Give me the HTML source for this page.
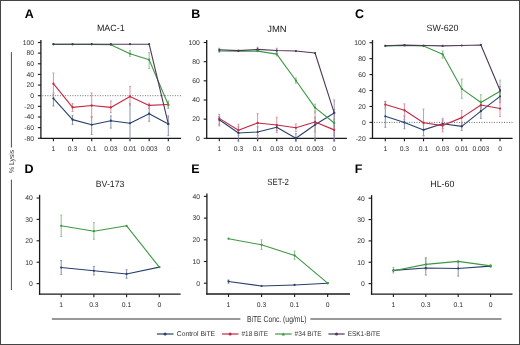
<!DOCTYPE html>
<html><head><meta charset="utf-8"><style>
html,body{margin:0;padding:0;background:#fff;}
body{width:520px;height:345px;overflow:hidden;}
svg{display:block;filter:blur(0.3px);} text{text-rendering:geometricPrecision;}
</style></head><body>
<svg width="520" height="345" viewBox="0 0 520 345" font-family="Liberation Sans, sans-serif">
<rect x="0" y="0" width="520" height="345" fill="#fff"/>
<line x1="40.9" y1="40.1" x2="40.9" y2="138.9" stroke="#1a1a1a" stroke-width="1.3" />
<line x1="40.2" y1="138.3" x2="181" y2="138.3" stroke="#1a1a1a" stroke-width="1.3" />
<line x1="37.9" y1="42.5" x2="40.9" y2="42.5" stroke="#1a1a1a" stroke-width="1.1" />
<text x="34.1" y="44.85" font-size="6.8" text-anchor="end" font-weight="normal" fill="#333333" >100</text>
<line x1="37.9" y1="53.14" x2="40.9" y2="53.14" stroke="#1a1a1a" stroke-width="1.1" />
<text x="34.1" y="55.49" font-size="6.8" text-anchor="end" font-weight="normal" fill="#333333" >80</text>
<line x1="37.9" y1="63.78" x2="40.9" y2="63.78" stroke="#1a1a1a" stroke-width="1.1" />
<text x="34.1" y="66.13" font-size="6.8" text-anchor="end" font-weight="normal" fill="#333333" >60</text>
<line x1="37.9" y1="74.42" x2="40.9" y2="74.42" stroke="#1a1a1a" stroke-width="1.1" />
<text x="34.1" y="76.77" font-size="6.8" text-anchor="end" font-weight="normal" fill="#333333" >40</text>
<line x1="37.9" y1="85.06" x2="40.9" y2="85.06" stroke="#1a1a1a" stroke-width="1.1" />
<text x="34.1" y="87.41" font-size="6.8" text-anchor="end" font-weight="normal" fill="#333333" >20</text>
<line x1="37.9" y1="95.7" x2="40.9" y2="95.7" stroke="#1a1a1a" stroke-width="1.1" />
<text x="34.1" y="98.05" font-size="6.8" text-anchor="end" font-weight="normal" fill="#333333" >0</text>
<line x1="37.9" y1="106.34" x2="40.9" y2="106.34" stroke="#1a1a1a" stroke-width="1.1" />
<text x="34.1" y="108.69" font-size="6.8" text-anchor="end" font-weight="normal" fill="#333333" >-20</text>
<line x1="37.9" y1="116.98" x2="40.9" y2="116.98" stroke="#1a1a1a" stroke-width="1.1" />
<text x="34.1" y="119.33" font-size="6.8" text-anchor="end" font-weight="normal" fill="#333333" >-40</text>
<line x1="37.9" y1="127.62" x2="40.9" y2="127.62" stroke="#1a1a1a" stroke-width="1.1" />
<text x="34.1" y="129.97" font-size="6.8" text-anchor="end" font-weight="normal" fill="#333333" >-60</text>
<line x1="37.9" y1="138.26" x2="40.9" y2="138.26" stroke="#1a1a1a" stroke-width="1.1" />
<text x="34.1" y="140.61" font-size="6.8" text-anchor="end" font-weight="normal" fill="#333333" >-80</text>
<line x1="53.4" y1="138.3" x2="53.4" y2="141.3" stroke="#1a1a1a" stroke-width="1.1" />
<text x="53.4" y="150.5" font-size="6.8" text-anchor="middle" font-weight="normal" fill="#333333" >1</text>
<line x1="72.55" y1="138.3" x2="72.55" y2="141.3" stroke="#1a1a1a" stroke-width="1.1" />
<text x="72.55" y="150.5" font-size="6.8" text-anchor="middle" font-weight="normal" fill="#333333" >0.3</text>
<line x1="91.7" y1="138.3" x2="91.7" y2="141.3" stroke="#1a1a1a" stroke-width="1.1" />
<text x="91.7" y="150.5" font-size="6.8" text-anchor="middle" font-weight="normal" fill="#333333" >0.1</text>
<line x1="110.85" y1="138.3" x2="110.85" y2="141.3" stroke="#1a1a1a" stroke-width="1.1" />
<text x="110.85" y="150.5" font-size="6.8" text-anchor="middle" font-weight="normal" fill="#333333" >0.03</text>
<line x1="130" y1="138.3" x2="130" y2="141.3" stroke="#1a1a1a" stroke-width="1.1" />
<text x="130" y="150.5" font-size="6.8" text-anchor="middle" font-weight="normal" fill="#333333" >0.01</text>
<line x1="149.15" y1="138.3" x2="149.15" y2="141.3" stroke="#1a1a1a" stroke-width="1.1" />
<text x="149.15" y="150.5" font-size="6.8" text-anchor="middle" font-weight="normal" fill="#333333" >0.003</text>
<line x1="168.3" y1="138.3" x2="168.3" y2="141.3" stroke="#1a1a1a" stroke-width="1.1" />
<text x="168.3" y="150.5" font-size="6.8" text-anchor="middle" font-weight="normal" fill="#333333" >0</text>
<line x1="42.4" y1="95.7" x2="181" y2="95.7" stroke="#6e6e6e" stroke-width="1" stroke-dasharray="1,1.5"/>
<line x1="53.4" y1="94.1" x2="53.4" y2="106.07" stroke="#7887a3" stroke-width="0.9" />
<line x1="52.4" y1="94.1" x2="54.4" y2="94.1" stroke="#7887a3" stroke-width="0.8" />
<line x1="52.4" y1="106.07" x2="54.4" y2="106.07" stroke="#7887a3" stroke-width="0.8" />
<line x1="72.55" y1="115.54" x2="72.55" y2="124.43" stroke="#7887a3" stroke-width="0.9" />
<line x1="71.55" y1="115.54" x2="73.55" y2="115.54" stroke="#7887a3" stroke-width="0.8" />
<line x1="71.55" y1="124.43" x2="73.55" y2="124.43" stroke="#7887a3" stroke-width="0.8" />
<line x1="91.7" y1="116.98" x2="91.7" y2="134.48" stroke="#7887a3" stroke-width="0.9" />
<line x1="90.7" y1="116.98" x2="92.7" y2="116.98" stroke="#7887a3" stroke-width="0.8" />
<line x1="90.7" y1="134.48" x2="92.7" y2="134.48" stroke="#7887a3" stroke-width="0.8" />
<line x1="110.85" y1="115.92" x2="110.85" y2="128.15" stroke="#7887a3" stroke-width="0.9" />
<line x1="109.85" y1="115.92" x2="111.85" y2="115.92" stroke="#7887a3" stroke-width="0.8" />
<line x1="109.85" y1="128.15" x2="111.85" y2="128.15" stroke="#7887a3" stroke-width="0.8" />
<line x1="130" y1="103.68" x2="130" y2="139.32" stroke="#7887a3" stroke-width="0.9" />
<line x1="129" y1="103.68" x2="131" y2="103.68" stroke="#7887a3" stroke-width="0.8" />
<line x1="129" y1="139.32" x2="131" y2="139.32" stroke="#7887a3" stroke-width="0.8" />
<line x1="149.15" y1="108.47" x2="149.15" y2="121.24" stroke="#7887a3" stroke-width="0.9" />
<line x1="148.15" y1="108.47" x2="150.15" y2="108.47" stroke="#7887a3" stroke-width="0.8" />
<line x1="148.15" y1="121.24" x2="150.15" y2="121.24" stroke="#7887a3" stroke-width="0.8" />
<line x1="168.3" y1="115.92" x2="168.3" y2="135.6" stroke="#7887a3" stroke-width="0.9" />
<line x1="167.3" y1="115.92" x2="169.3" y2="115.92" stroke="#7887a3" stroke-width="0.8" />
<line x1="167.3" y1="135.6" x2="169.3" y2="135.6" stroke="#7887a3" stroke-width="0.8" />
<line x1="53.4" y1="72.98" x2="53.4" y2="93.04" stroke="#dc8494" stroke-width="0.9" />
<line x1="52.4" y1="72.98" x2="54.4" y2="72.98" stroke="#dc8494" stroke-width="0.8" />
<line x1="52.4" y1="93.04" x2="54.4" y2="93.04" stroke="#dc8494" stroke-width="0.8" />
<line x1="72.55" y1="103.47" x2="72.55" y2="111.55" stroke="#dc8494" stroke-width="0.9" />
<line x1="71.55" y1="103.47" x2="73.55" y2="103.47" stroke="#dc8494" stroke-width="0.8" />
<line x1="71.55" y1="111.55" x2="73.55" y2="111.55" stroke="#dc8494" stroke-width="0.8" />
<line x1="91.7" y1="92.93" x2="91.7" y2="116.98" stroke="#dc8494" stroke-width="0.9" />
<line x1="90.7" y1="92.93" x2="92.7" y2="92.93" stroke="#dc8494" stroke-width="0.8" />
<line x1="90.7" y1="116.98" x2="92.7" y2="116.98" stroke="#dc8494" stroke-width="0.8" />
<line x1="110.85" y1="100.97" x2="110.85" y2="112.72" stroke="#dc8494" stroke-width="0.9" />
<line x1="109.85" y1="100.97" x2="111.85" y2="100.97" stroke="#dc8494" stroke-width="0.8" />
<line x1="109.85" y1="112.72" x2="111.85" y2="112.72" stroke="#dc8494" stroke-width="0.8" />
<line x1="130" y1="86.55" x2="130" y2="105.28" stroke="#dc8494" stroke-width="0.9" />
<line x1="129" y1="86.55" x2="131" y2="86.55" stroke="#dc8494" stroke-width="0.8" />
<line x1="129" y1="105.28" x2="131" y2="105.28" stroke="#dc8494" stroke-width="0.8" />
<line x1="149.15" y1="103.15" x2="149.15" y2="107.4" stroke="#dc8494" stroke-width="0.9" />
<line x1="148.15" y1="103.15" x2="150.15" y2="103.15" stroke="#dc8494" stroke-width="0.8" />
<line x1="148.15" y1="107.4" x2="150.15" y2="107.4" stroke="#dc8494" stroke-width="0.8" />
<line x1="168.3" y1="102.08" x2="168.3" y2="106.87" stroke="#dc8494" stroke-width="0.9" />
<line x1="167.3" y1="102.08" x2="169.3" y2="102.08" stroke="#dc8494" stroke-width="0.8" />
<line x1="167.3" y1="106.87" x2="169.3" y2="106.87" stroke="#dc8494" stroke-width="0.8" />
<line x1="130" y1="50.48" x2="130" y2="56.33" stroke="#86b886" stroke-width="0.9" />
<line x1="129" y1="50.48" x2="131" y2="50.48" stroke="#86b886" stroke-width="0.8" />
<line x1="129" y1="56.33" x2="131" y2="56.33" stroke="#86b886" stroke-width="0.8" />
<line x1="149.15" y1="52.61" x2="149.15" y2="68.57" stroke="#86b886" stroke-width="0.9" />
<line x1="148.15" y1="52.61" x2="150.15" y2="52.61" stroke="#86b886" stroke-width="0.8" />
<line x1="148.15" y1="68.57" x2="150.15" y2="68.57" stroke="#86b886" stroke-width="0.8" />
<line x1="168.3" y1="101.02" x2="168.3" y2="108.47" stroke="#86b886" stroke-width="0.9" />
<line x1="167.3" y1="101.02" x2="169.3" y2="101.02" stroke="#86b886" stroke-width="0.8" />
<line x1="167.3" y1="108.47" x2="169.3" y2="108.47" stroke="#86b886" stroke-width="0.8" />
<polyline points="53.4,98.36 72.55,119.64 91.7,124.75 110.85,120.7 130,123.26 149.15,113.68 168.3,124.06" fill="none" stroke="#2a406c" stroke-width="1.1" stroke-linejoin="round"/>
<circle cx="53.4" cy="98.36" r="1.1" fill="#2a406c"/>
<circle cx="72.55" cy="119.64" r="1.1" fill="#2a406c"/>
<circle cx="91.7" cy="124.75" r="1.1" fill="#2a406c"/>
<circle cx="110.85" cy="120.7" r="1.1" fill="#2a406c"/>
<circle cx="130" cy="123.26" r="1.1" fill="#2a406c"/>
<circle cx="149.15" cy="113.68" r="1.1" fill="#2a406c"/>
<circle cx="168.3" cy="124.06" r="1.1" fill="#2a406c"/>
<polyline points="53.4,83.68 72.55,107.4 91.7,105.44 110.85,107.4 130,96.44 149.15,105.38 168.3,104.48" fill="none" stroke="#c42842" stroke-width="1.1" stroke-linejoin="round"/>
<circle cx="53.4" cy="83.68" r="1.1" fill="#c42842"/>
<circle cx="72.55" cy="107.4" r="1.1" fill="#c42842"/>
<circle cx="91.7" cy="105.44" r="1.1" fill="#c42842"/>
<circle cx="110.85" cy="107.4" r="1.1" fill="#c42842"/>
<circle cx="130" cy="96.44" r="1.1" fill="#c42842"/>
<circle cx="149.15" cy="105.38" r="1.1" fill="#c42842"/>
<circle cx="168.3" cy="104.48" r="1.1" fill="#c42842"/>
<polyline points="53.4,44.36 72.55,44.36 91.7,44.36 110.85,44.63 130,53.67 149.15,59.68 168.3,104.74" fill="none" stroke="#3e9844" stroke-width="1.1" stroke-linejoin="round"/>
<circle cx="53.4" cy="44.36" r="1.1" fill="#3e9844"/>
<circle cx="72.55" cy="44.36" r="1.1" fill="#3e9844"/>
<circle cx="91.7" cy="44.36" r="1.1" fill="#3e9844"/>
<circle cx="110.85" cy="44.63" r="1.1" fill="#3e9844"/>
<circle cx="130" cy="53.67" r="1.1" fill="#3e9844"/>
<circle cx="149.15" cy="59.68" r="1.1" fill="#3e9844"/>
<circle cx="168.3" cy="104.74" r="1.1" fill="#3e9844"/>
<polyline points="53.4,44.2 72.55,44.2 91.7,44.2 110.85,44.2 130,44.2 149.15,44.2 168.3,123.9" fill="none" stroke="#4e3858" stroke-width="1.1" stroke-linejoin="round"/>
<circle cx="53.4" cy="44.2" r="1.1" fill="#4e3858"/>
<circle cx="72.55" cy="44.2" r="1.1" fill="#4e3858"/>
<circle cx="91.7" cy="44.2" r="1.1" fill="#4e3858"/>
<circle cx="110.85" cy="44.2" r="1.1" fill="#4e3858"/>
<circle cx="130" cy="44.2" r="1.1" fill="#4e3858"/>
<circle cx="149.15" cy="44.2" r="1.1" fill="#4e3858"/>
<circle cx="168.3" cy="123.9" r="1.1" fill="#4e3858"/>
<line x1="206.7" y1="40.1" x2="206.7" y2="138.9" stroke="#1a1a1a" stroke-width="1.3" />
<line x1="206" y1="138.3" x2="346.9" y2="138.3" stroke="#1a1a1a" stroke-width="1.3" />
<line x1="203.7" y1="42.5" x2="206.7" y2="42.5" stroke="#1a1a1a" stroke-width="1.1" />
<text x="199.9" y="44.85" font-size="6.8" text-anchor="end" font-weight="normal" fill="#333333" >100</text>
<line x1="203.7" y1="61.66" x2="206.7" y2="61.66" stroke="#1a1a1a" stroke-width="1.1" />
<text x="199.9" y="64.01" font-size="6.8" text-anchor="end" font-weight="normal" fill="#333333" >80</text>
<line x1="203.7" y1="80.82" x2="206.7" y2="80.82" stroke="#1a1a1a" stroke-width="1.1" />
<text x="199.9" y="83.17" font-size="6.8" text-anchor="end" font-weight="normal" fill="#333333" >60</text>
<line x1="203.7" y1="99.98" x2="206.7" y2="99.98" stroke="#1a1a1a" stroke-width="1.1" />
<text x="199.9" y="102.33" font-size="6.8" text-anchor="end" font-weight="normal" fill="#333333" >40</text>
<line x1="203.7" y1="119.14" x2="206.7" y2="119.14" stroke="#1a1a1a" stroke-width="1.1" />
<text x="199.9" y="121.49" font-size="6.8" text-anchor="end" font-weight="normal" fill="#333333" >20</text>
<line x1="203.7" y1="138.3" x2="206.7" y2="138.3" stroke="#1a1a1a" stroke-width="1.1" />
<text x="199.9" y="140.65" font-size="6.8" text-anchor="end" font-weight="normal" fill="#333333" >0</text>
<line x1="219.3" y1="138.3" x2="219.3" y2="141.3" stroke="#1a1a1a" stroke-width="1.1" />
<text x="219.3" y="150.5" font-size="6.8" text-anchor="middle" font-weight="normal" fill="#333333" >1</text>
<line x1="238.45" y1="138.3" x2="238.45" y2="141.3" stroke="#1a1a1a" stroke-width="1.1" />
<text x="238.45" y="150.5" font-size="6.8" text-anchor="middle" font-weight="normal" fill="#333333" >0.3</text>
<line x1="257.6" y1="138.3" x2="257.6" y2="141.3" stroke="#1a1a1a" stroke-width="1.1" />
<text x="257.6" y="150.5" font-size="6.8" text-anchor="middle" font-weight="normal" fill="#333333" >0.1</text>
<line x1="276.75" y1="138.3" x2="276.75" y2="141.3" stroke="#1a1a1a" stroke-width="1.1" />
<text x="276.75" y="150.5" font-size="6.8" text-anchor="middle" font-weight="normal" fill="#333333" >0.03</text>
<line x1="295.9" y1="138.3" x2="295.9" y2="141.3" stroke="#1a1a1a" stroke-width="1.1" />
<text x="295.9" y="150.5" font-size="6.8" text-anchor="middle" font-weight="normal" fill="#333333" >0.01</text>
<line x1="315.05" y1="138.3" x2="315.05" y2="141.3" stroke="#1a1a1a" stroke-width="1.1" />
<text x="315.05" y="150.5" font-size="6.8" text-anchor="middle" font-weight="normal" fill="#333333" >0.003</text>
<line x1="334.2" y1="138.3" x2="334.2" y2="141.3" stroke="#1a1a1a" stroke-width="1.1" />
<text x="334.2" y="150.5" font-size="6.8" text-anchor="middle" font-weight="normal" fill="#333333" >0</text>
<line x1="219.3" y1="116.27" x2="219.3" y2="124.89" stroke="#7887a3" stroke-width="0.9" />
<line x1="218.3" y1="116.27" x2="220.3" y2="116.27" stroke="#7887a3" stroke-width="0.8" />
<line x1="218.3" y1="124.89" x2="220.3" y2="124.89" stroke="#7887a3" stroke-width="0.8" />
<line x1="238.45" y1="126.8" x2="238.45" y2="141.17" stroke="#7887a3" stroke-width="0.9" />
<line x1="237.45" y1="126.8" x2="239.45" y2="126.8" stroke="#7887a3" stroke-width="0.8" />
<line x1="237.45" y1="141.17" x2="239.45" y2="141.17" stroke="#7887a3" stroke-width="0.8" />
<line x1="257.6" y1="126.8" x2="257.6" y2="139.26" stroke="#7887a3" stroke-width="0.9" />
<line x1="256.6" y1="126.8" x2="258.6" y2="126.8" stroke="#7887a3" stroke-width="0.8" />
<line x1="256.6" y1="139.26" x2="258.6" y2="139.26" stroke="#7887a3" stroke-width="0.8" />
<line x1="276.75" y1="124.89" x2="276.75" y2="130.64" stroke="#7887a3" stroke-width="0.9" />
<line x1="275.75" y1="124.89" x2="277.75" y2="124.89" stroke="#7887a3" stroke-width="0.8" />
<line x1="275.75" y1="130.64" x2="277.75" y2="130.64" stroke="#7887a3" stroke-width="0.8" />
<line x1="295.9" y1="133.51" x2="295.9" y2="141.17" stroke="#7887a3" stroke-width="0.9" />
<line x1="294.9" y1="133.51" x2="296.9" y2="133.51" stroke="#7887a3" stroke-width="0.8" />
<line x1="294.9" y1="141.17" x2="296.9" y2="141.17" stroke="#7887a3" stroke-width="0.8" />
<line x1="315.05" y1="117.22" x2="315.05" y2="138.3" stroke="#7887a3" stroke-width="0.9" />
<line x1="314.05" y1="117.22" x2="316.05" y2="117.22" stroke="#7887a3" stroke-width="0.8" />
<line x1="314.05" y1="138.3" x2="316.05" y2="138.3" stroke="#7887a3" stroke-width="0.8" />
<line x1="334.2" y1="109.56" x2="334.2" y2="141.17" stroke="#7887a3" stroke-width="0.9" />
<line x1="333.2" y1="109.56" x2="335.2" y2="109.56" stroke="#7887a3" stroke-width="0.8" />
<line x1="333.2" y1="141.17" x2="335.2" y2="141.17" stroke="#7887a3" stroke-width="0.8" />
<line x1="219.3" y1="114.35" x2="219.3" y2="125.85" stroke="#dc8494" stroke-width="0.9" />
<line x1="218.3" y1="114.35" x2="220.3" y2="114.35" stroke="#dc8494" stroke-width="0.8" />
<line x1="218.3" y1="125.85" x2="220.3" y2="125.85" stroke="#dc8494" stroke-width="0.8" />
<line x1="238.45" y1="124.22" x2="238.45" y2="135.43" stroke="#dc8494" stroke-width="0.9" />
<line x1="237.45" y1="124.22" x2="239.45" y2="124.22" stroke="#dc8494" stroke-width="0.8" />
<line x1="237.45" y1="135.43" x2="239.45" y2="135.43" stroke="#dc8494" stroke-width="0.8" />
<line x1="257.6" y1="113.68" x2="257.6" y2="135.52" stroke="#dc8494" stroke-width="0.9" />
<line x1="256.6" y1="113.68" x2="258.6" y2="113.68" stroke="#dc8494" stroke-width="0.8" />
<line x1="256.6" y1="135.52" x2="258.6" y2="135.52" stroke="#dc8494" stroke-width="0.8" />
<line x1="276.75" y1="117.22" x2="276.75" y2="132.55" stroke="#dc8494" stroke-width="0.9" />
<line x1="275.75" y1="117.22" x2="277.75" y2="117.22" stroke="#dc8494" stroke-width="0.8" />
<line x1="275.75" y1="132.55" x2="277.75" y2="132.55" stroke="#dc8494" stroke-width="0.8" />
<line x1="295.9" y1="123.93" x2="295.9" y2="131.59" stroke="#dc8494" stroke-width="0.9" />
<line x1="294.9" y1="123.93" x2="296.9" y2="123.93" stroke="#dc8494" stroke-width="0.8" />
<line x1="294.9" y1="131.59" x2="296.9" y2="131.59" stroke="#dc8494" stroke-width="0.8" />
<line x1="315.05" y1="111.09" x2="315.05" y2="131.98" stroke="#dc8494" stroke-width="0.9" />
<line x1="314.05" y1="111.09" x2="316.05" y2="111.09" stroke="#dc8494" stroke-width="0.8" />
<line x1="314.05" y1="131.98" x2="316.05" y2="131.98" stroke="#dc8494" stroke-width="0.8" />
<line x1="334.2" y1="123.93" x2="334.2" y2="135.43" stroke="#dc8494" stroke-width="0.9" />
<line x1="333.2" y1="123.93" x2="335.2" y2="123.93" stroke="#dc8494" stroke-width="0.8" />
<line x1="333.2" y1="135.43" x2="335.2" y2="135.43" stroke="#dc8494" stroke-width="0.8" />
<line x1="276.75" y1="52.08" x2="276.75" y2="55.91" stroke="#86b886" stroke-width="0.9" />
<line x1="275.75" y1="52.08" x2="277.75" y2="52.08" stroke="#86b886" stroke-width="0.8" />
<line x1="275.75" y1="55.91" x2="277.75" y2="55.91" stroke="#86b886" stroke-width="0.8" />
<line x1="295.9" y1="77.95" x2="295.9" y2="83.22" stroke="#86b886" stroke-width="0.9" />
<line x1="294.9" y1="77.95" x2="296.9" y2="77.95" stroke="#86b886" stroke-width="0.8" />
<line x1="294.9" y1="83.22" x2="296.9" y2="83.22" stroke="#86b886" stroke-width="0.8" />
<line x1="315.05" y1="104.2" x2="315.05" y2="112.91" stroke="#86b886" stroke-width="0.9" />
<line x1="314.05" y1="104.2" x2="316.05" y2="104.2" stroke="#86b886" stroke-width="0.8" />
<line x1="314.05" y1="112.91" x2="316.05" y2="112.91" stroke="#86b886" stroke-width="0.8" />
<line x1="334.2" y1="119.14" x2="334.2" y2="126.8" stroke="#86b886" stroke-width="0.9" />
<line x1="333.2" y1="119.14" x2="335.2" y2="119.14" stroke="#86b886" stroke-width="0.8" />
<line x1="333.2" y1="126.8" x2="335.2" y2="126.8" stroke="#86b886" stroke-width="0.8" />
<line x1="219.3" y1="48.25" x2="219.3" y2="52.08" stroke="#9a88a2" stroke-width="0.9" />
<line x1="218.3" y1="48.25" x2="220.3" y2="48.25" stroke="#9a88a2" stroke-width="0.8" />
<line x1="218.3" y1="52.08" x2="220.3" y2="52.08" stroke="#9a88a2" stroke-width="0.8" />
<line x1="257.6" y1="47.29" x2="257.6" y2="51.12" stroke="#9a88a2" stroke-width="0.9" />
<line x1="256.6" y1="47.29" x2="258.6" y2="47.29" stroke="#9a88a2" stroke-width="0.8" />
<line x1="256.6" y1="51.12" x2="258.6" y2="51.12" stroke="#9a88a2" stroke-width="0.8" />
<line x1="276.75" y1="48.25" x2="276.75" y2="52.08" stroke="#9a88a2" stroke-width="0.9" />
<line x1="275.75" y1="48.25" x2="277.75" y2="48.25" stroke="#9a88a2" stroke-width="0.8" />
<line x1="275.75" y1="52.08" x2="277.75" y2="52.08" stroke="#9a88a2" stroke-width="0.8" />
<line x1="334.2" y1="99.98" x2="334.2" y2="140.22" stroke="#9a88a2" stroke-width="0.9" />
<line x1="333.2" y1="99.98" x2="335.2" y2="99.98" stroke="#9a88a2" stroke-width="0.8" />
<line x1="333.2" y1="140.22" x2="335.2" y2="140.22" stroke="#9a88a2" stroke-width="0.8" />
<polyline points="219.3,119.81 238.45,132.94 257.6,131.98 276.75,127.28 295.9,138.3 315.05,124.7 334.2,112.91" fill="none" stroke="#2a406c" stroke-width="1.1" stroke-linejoin="round"/>
<circle cx="219.3" cy="119.81" r="1.1" fill="#2a406c"/>
<circle cx="238.45" cy="132.94" r="1.1" fill="#2a406c"/>
<circle cx="257.6" cy="131.98" r="1.1" fill="#2a406c"/>
<circle cx="276.75" cy="127.28" r="1.1" fill="#2a406c"/>
<circle cx="295.9" cy="138.3" r="1.1" fill="#2a406c"/>
<circle cx="315.05" cy="124.7" r="1.1" fill="#2a406c"/>
<circle cx="334.2" cy="112.91" r="1.1" fill="#2a406c"/>
<polyline points="219.3,118.37 238.45,130.25 257.6,122.97 276.75,124.98 295.9,127.76 315.05,121.92 334.2,129.87" fill="none" stroke="#c42842" stroke-width="1.1" stroke-linejoin="round"/>
<circle cx="219.3" cy="118.37" r="1.1" fill="#c42842"/>
<circle cx="238.45" cy="130.25" r="1.1" fill="#c42842"/>
<circle cx="257.6" cy="122.97" r="1.1" fill="#c42842"/>
<circle cx="276.75" cy="124.98" r="1.1" fill="#c42842"/>
<circle cx="295.9" cy="127.76" r="1.1" fill="#c42842"/>
<circle cx="315.05" cy="121.92" r="1.1" fill="#c42842"/>
<circle cx="334.2" cy="129.87" r="1.1" fill="#c42842"/>
<polyline points="219.3,51.03 238.45,51.12 257.6,51.12 276.75,54.09 295.9,80.53 315.05,107.64 334.2,122.97" fill="none" stroke="#3e9844" stroke-width="1.1" stroke-linejoin="round"/>
<circle cx="219.3" cy="51.03" r="1.1" fill="#3e9844"/>
<circle cx="238.45" cy="51.12" r="1.1" fill="#3e9844"/>
<circle cx="257.6" cy="51.12" r="1.1" fill="#3e9844"/>
<circle cx="276.75" cy="54.09" r="1.1" fill="#3e9844"/>
<circle cx="295.9" cy="80.53" r="1.1" fill="#3e9844"/>
<circle cx="315.05" cy="107.64" r="1.1" fill="#3e9844"/>
<circle cx="334.2" cy="122.97" r="1.1" fill="#3e9844"/>
<polyline points="219.3,49.78 238.45,50.64 257.6,49.4 276.75,50.55 295.9,51.03 315.05,53.04 334.2,112.91" fill="none" stroke="#4e3858" stroke-width="1.1" stroke-linejoin="round"/>
<circle cx="219.3" cy="49.78" r="1.1" fill="#4e3858"/>
<circle cx="238.45" cy="50.64" r="1.1" fill="#4e3858"/>
<circle cx="257.6" cy="49.4" r="1.1" fill="#4e3858"/>
<circle cx="276.75" cy="50.55" r="1.1" fill="#4e3858"/>
<circle cx="295.9" cy="51.03" r="1.1" fill="#4e3858"/>
<circle cx="315.05" cy="53.04" r="1.1" fill="#4e3858"/>
<circle cx="334.2" cy="112.91" r="1.1" fill="#4e3858"/>
<line x1="372.5" y1="40.1" x2="372.5" y2="138.9" stroke="#1a1a1a" stroke-width="1.3" />
<line x1="371.8" y1="138.3" x2="512.6" y2="138.3" stroke="#1a1a1a" stroke-width="1.3" />
<line x1="369.5" y1="42.7" x2="372.5" y2="42.7" stroke="#1a1a1a" stroke-width="1.1" />
<text x="365.7" y="45.05" font-size="6.8" text-anchor="end" font-weight="normal" fill="#333333" >100</text>
<line x1="369.5" y1="58.64" x2="372.5" y2="58.64" stroke="#1a1a1a" stroke-width="1.1" />
<text x="365.7" y="60.99" font-size="6.8" text-anchor="end" font-weight="normal" fill="#333333" >80</text>
<line x1="369.5" y1="74.58" x2="372.5" y2="74.58" stroke="#1a1a1a" stroke-width="1.1" />
<text x="365.7" y="76.93" font-size="6.8" text-anchor="end" font-weight="normal" fill="#333333" >60</text>
<line x1="369.5" y1="90.52" x2="372.5" y2="90.52" stroke="#1a1a1a" stroke-width="1.1" />
<text x="365.7" y="92.87" font-size="6.8" text-anchor="end" font-weight="normal" fill="#333333" >40</text>
<line x1="369.5" y1="106.46" x2="372.5" y2="106.46" stroke="#1a1a1a" stroke-width="1.1" />
<text x="365.7" y="108.81" font-size="6.8" text-anchor="end" font-weight="normal" fill="#333333" >20</text>
<line x1="369.5" y1="122.4" x2="372.5" y2="122.4" stroke="#1a1a1a" stroke-width="1.1" />
<text x="365.7" y="124.75" font-size="6.8" text-anchor="end" font-weight="normal" fill="#333333" >0</text>
<line x1="369.5" y1="138.34" x2="372.5" y2="138.34" stroke="#1a1a1a" stroke-width="1.1" />
<text x="365.7" y="140.69" font-size="6.8" text-anchor="end" font-weight="normal" fill="#333333" >-20</text>
<line x1="385.3" y1="138.3" x2="385.3" y2="141.3" stroke="#1a1a1a" stroke-width="1.1" />
<text x="385.3" y="150.5" font-size="6.8" text-anchor="middle" font-weight="normal" fill="#333333" >1</text>
<line x1="404.42" y1="138.3" x2="404.42" y2="141.3" stroke="#1a1a1a" stroke-width="1.1" />
<text x="404.42" y="150.5" font-size="6.8" text-anchor="middle" font-weight="normal" fill="#333333" >0.3</text>
<line x1="423.54" y1="138.3" x2="423.54" y2="141.3" stroke="#1a1a1a" stroke-width="1.1" />
<text x="423.54" y="150.5" font-size="6.8" text-anchor="middle" font-weight="normal" fill="#333333" >0.1</text>
<line x1="442.66" y1="138.3" x2="442.66" y2="141.3" stroke="#1a1a1a" stroke-width="1.1" />
<text x="442.66" y="150.5" font-size="6.8" text-anchor="middle" font-weight="normal" fill="#333333" >0.03</text>
<line x1="461.78" y1="138.3" x2="461.78" y2="141.3" stroke="#1a1a1a" stroke-width="1.1" />
<text x="461.78" y="150.5" font-size="6.8" text-anchor="middle" font-weight="normal" fill="#333333" >0.01</text>
<line x1="480.9" y1="138.3" x2="480.9" y2="141.3" stroke="#1a1a1a" stroke-width="1.1" />
<text x="480.9" y="150.5" font-size="6.8" text-anchor="middle" font-weight="normal" fill="#333333" >0.003</text>
<line x1="500.02" y1="138.3" x2="500.02" y2="141.3" stroke="#1a1a1a" stroke-width="1.1" />
<text x="500.02" y="150.5" font-size="6.8" text-anchor="middle" font-weight="normal" fill="#333333" >0</text>
<line x1="374" y1="122.4" x2="512.6" y2="122.4" stroke="#6e6e6e" stroke-width="1" stroke-dasharray="1,1.5"/>
<line x1="385.3" y1="101.68" x2="385.3" y2="127.34" stroke="#7887a3" stroke-width="0.9" />
<line x1="384.3" y1="101.68" x2="386.3" y2="101.68" stroke="#7887a3" stroke-width="0.8" />
<line x1="384.3" y1="127.34" x2="386.3" y2="127.34" stroke="#7887a3" stroke-width="0.8" />
<line x1="404.42" y1="116.02" x2="404.42" y2="128.78" stroke="#7887a3" stroke-width="0.9" />
<line x1="403.42" y1="116.02" x2="405.42" y2="116.02" stroke="#7887a3" stroke-width="0.8" />
<line x1="403.42" y1="128.78" x2="405.42" y2="128.78" stroke="#7887a3" stroke-width="0.8" />
<line x1="423.54" y1="123.99" x2="423.54" y2="135.95" stroke="#7887a3" stroke-width="0.9" />
<line x1="422.54" y1="123.99" x2="424.54" y2="123.99" stroke="#7887a3" stroke-width="0.8" />
<line x1="422.54" y1="135.95" x2="424.54" y2="135.95" stroke="#7887a3" stroke-width="0.8" />
<line x1="442.66" y1="120.01" x2="442.66" y2="128.78" stroke="#7887a3" stroke-width="0.9" />
<line x1="441.66" y1="120.01" x2="443.66" y2="120.01" stroke="#7887a3" stroke-width="0.8" />
<line x1="441.66" y1="128.78" x2="443.66" y2="128.78" stroke="#7887a3" stroke-width="0.8" />
<line x1="461.78" y1="122.4" x2="461.78" y2="130.37" stroke="#7887a3" stroke-width="0.9" />
<line x1="460.78" y1="122.4" x2="462.78" y2="122.4" stroke="#7887a3" stroke-width="0.8" />
<line x1="460.78" y1="130.37" x2="462.78" y2="130.37" stroke="#7887a3" stroke-width="0.8" />
<line x1="480.9" y1="106.46" x2="480.9" y2="118.42" stroke="#7887a3" stroke-width="0.9" />
<line x1="479.9" y1="106.46" x2="481.9" y2="106.46" stroke="#7887a3" stroke-width="0.8" />
<line x1="479.9" y1="118.42" x2="481.9" y2="118.42" stroke="#7887a3" stroke-width="0.8" />
<line x1="500.02" y1="92.11" x2="500.02" y2="102.48" stroke="#7887a3" stroke-width="0.9" />
<line x1="499.02" y1="92.11" x2="501.02" y2="92.11" stroke="#7887a3" stroke-width="0.8" />
<line x1="499.02" y1="102.48" x2="501.02" y2="102.48" stroke="#7887a3" stroke-width="0.8" />
<line x1="385.3" y1="101.28" x2="385.3" y2="108.05" stroke="#dc8494" stroke-width="0.9" />
<line x1="384.3" y1="101.28" x2="386.3" y2="101.28" stroke="#dc8494" stroke-width="0.8" />
<line x1="384.3" y1="108.05" x2="386.3" y2="108.05" stroke="#dc8494" stroke-width="0.8" />
<line x1="404.42" y1="103.83" x2="404.42" y2="119.85" stroke="#dc8494" stroke-width="0.9" />
<line x1="403.42" y1="103.83" x2="405.42" y2="103.83" stroke="#dc8494" stroke-width="0.8" />
<line x1="403.42" y1="119.85" x2="405.42" y2="119.85" stroke="#dc8494" stroke-width="0.8" />
<line x1="423.54" y1="109.09" x2="423.54" y2="135.55" stroke="#dc8494" stroke-width="0.9" />
<line x1="422.54" y1="109.09" x2="424.54" y2="109.09" stroke="#dc8494" stroke-width="0.8" />
<line x1="422.54" y1="135.55" x2="424.54" y2="135.55" stroke="#dc8494" stroke-width="0.8" />
<line x1="442.66" y1="118.42" x2="442.66" y2="131.96" stroke="#dc8494" stroke-width="0.9" />
<line x1="441.66" y1="118.42" x2="443.66" y2="118.42" stroke="#dc8494" stroke-width="0.8" />
<line x1="441.66" y1="131.96" x2="443.66" y2="131.96" stroke="#dc8494" stroke-width="0.8" />
<line x1="461.78" y1="110.45" x2="461.78" y2="124.79" stroke="#dc8494" stroke-width="0.9" />
<line x1="460.78" y1="110.45" x2="462.78" y2="110.45" stroke="#dc8494" stroke-width="0.8" />
<line x1="460.78" y1="124.79" x2="462.78" y2="124.79" stroke="#dc8494" stroke-width="0.8" />
<line x1="480.9" y1="100.88" x2="480.9" y2="110.45" stroke="#dc8494" stroke-width="0.9" />
<line x1="479.9" y1="100.88" x2="481.9" y2="100.88" stroke="#dc8494" stroke-width="0.8" />
<line x1="479.9" y1="110.45" x2="481.9" y2="110.45" stroke="#dc8494" stroke-width="0.8" />
<line x1="500.02" y1="99.29" x2="500.02" y2="116.66" stroke="#dc8494" stroke-width="0.9" />
<line x1="499.02" y1="99.29" x2="501.02" y2="99.29" stroke="#dc8494" stroke-width="0.8" />
<line x1="499.02" y1="116.66" x2="501.02" y2="116.66" stroke="#dc8494" stroke-width="0.8" />
<line x1="442.66" y1="51.07" x2="442.66" y2="58.16" stroke="#86b886" stroke-width="0.9" />
<line x1="441.66" y1="51.07" x2="443.66" y2="51.07" stroke="#86b886" stroke-width="0.8" />
<line x1="441.66" y1="58.16" x2="443.66" y2="58.16" stroke="#86b886" stroke-width="0.8" />
<line x1="461.78" y1="79.04" x2="461.78" y2="98.33" stroke="#86b886" stroke-width="0.9" />
<line x1="460.78" y1="79.04" x2="462.78" y2="79.04" stroke="#86b886" stroke-width="0.8" />
<line x1="460.78" y1="98.33" x2="462.78" y2="98.33" stroke="#86b886" stroke-width="0.8" />
<line x1="480.9" y1="94.74" x2="480.9" y2="108.05" stroke="#86b886" stroke-width="0.9" />
<line x1="479.9" y1="94.74" x2="481.9" y2="94.74" stroke="#86b886" stroke-width="0.8" />
<line x1="479.9" y1="108.05" x2="481.9" y2="108.05" stroke="#86b886" stroke-width="0.8" />
<line x1="500.02" y1="80.16" x2="500.02" y2="98.49" stroke="#86b886" stroke-width="0.9" />
<line x1="499.02" y1="80.16" x2="501.02" y2="80.16" stroke="#86b886" stroke-width="0.8" />
<line x1="499.02" y1="98.49" x2="501.02" y2="98.49" stroke="#86b886" stroke-width="0.8" />
<line x1="500.02" y1="86.53" x2="500.02" y2="93.71" stroke="#9a88a2" stroke-width="0.9" />
<line x1="499.02" y1="86.53" x2="501.02" y2="86.53" stroke="#9a88a2" stroke-width="0.8" />
<line x1="499.02" y1="93.71" x2="501.02" y2="93.71" stroke="#9a88a2" stroke-width="0.8" />
<polyline points="385.3,116.34 404.42,122.4 423.54,129.89 442.66,123.75 461.78,126.39 480.9,111.16 500.02,96.34" fill="none" stroke="#2a406c" stroke-width="1.1" stroke-linejoin="round"/>
<circle cx="385.3" cy="116.34" r="1.1" fill="#2a406c"/>
<circle cx="404.42" cy="122.4" r="1.1" fill="#2a406c"/>
<circle cx="423.54" cy="129.89" r="1.1" fill="#2a406c"/>
<circle cx="442.66" cy="123.75" r="1.1" fill="#2a406c"/>
<circle cx="461.78" cy="126.39" r="1.1" fill="#2a406c"/>
<circle cx="480.9" cy="111.16" r="1.1" fill="#2a406c"/>
<circle cx="500.02" cy="96.34" r="1.1" fill="#2a406c"/>
<polyline points="385.3,104.55 404.42,110.29 423.54,122.8 442.66,125.59 461.78,117.62 480.9,105.03 500.02,108.53" fill="none" stroke="#c42842" stroke-width="1.1" stroke-linejoin="round"/>
<circle cx="385.3" cy="104.55" r="1.1" fill="#c42842"/>
<circle cx="404.42" cy="110.29" r="1.1" fill="#c42842"/>
<circle cx="423.54" cy="122.8" r="1.1" fill="#c42842"/>
<circle cx="442.66" cy="125.59" r="1.1" fill="#c42842"/>
<circle cx="461.78" cy="117.62" r="1.1" fill="#c42842"/>
<circle cx="480.9" cy="105.03" r="1.1" fill="#c42842"/>
<circle cx="500.02" cy="108.53" r="1.1" fill="#c42842"/>
<polyline points="385.3,45.89 404.42,45.49 423.54,46.05 442.66,54.18 461.78,88.85 480.9,102.48 500.02,91.32" fill="none" stroke="#3e9844" stroke-width="1.1" stroke-linejoin="round"/>
<circle cx="385.3" cy="45.89" r="1.1" fill="#3e9844"/>
<circle cx="404.42" cy="45.49" r="1.1" fill="#3e9844"/>
<circle cx="423.54" cy="46.05" r="1.1" fill="#3e9844"/>
<circle cx="442.66" cy="54.18" r="1.1" fill="#3e9844"/>
<circle cx="461.78" cy="88.85" r="1.1" fill="#3e9844"/>
<circle cx="480.9" cy="102.48" r="1.1" fill="#3e9844"/>
<circle cx="500.02" cy="91.32" r="1.1" fill="#3e9844"/>
<polyline points="385.3,45.73 404.42,45.09 423.54,45.49 442.66,45.89 461.78,45.49 480.9,44.93 500.02,90.28" fill="none" stroke="#4e3858" stroke-width="1.1" stroke-linejoin="round"/>
<circle cx="385.3" cy="45.73" r="1.1" fill="#4e3858"/>
<circle cx="404.42" cy="45.09" r="1.1" fill="#4e3858"/>
<circle cx="423.54" cy="45.49" r="1.1" fill="#4e3858"/>
<circle cx="442.66" cy="45.89" r="1.1" fill="#4e3858"/>
<circle cx="461.78" cy="45.49" r="1.1" fill="#4e3858"/>
<circle cx="480.9" cy="44.93" r="1.1" fill="#4e3858"/>
<circle cx="500.02" cy="90.28" r="1.1" fill="#4e3858"/>
<line x1="39.6" y1="194.8" x2="39.6" y2="294.8" stroke="#1a1a1a" stroke-width="1.3" />
<line x1="38.9" y1="294.2" x2="180.6" y2="294.2" stroke="#1a1a1a" stroke-width="1.3" />
<line x1="36.6" y1="198" x2="39.6" y2="198" stroke="#1a1a1a" stroke-width="1.1" />
<text x="32.8" y="200.35" font-size="6.8" text-anchor="end" font-weight="normal" fill="#333333" >40</text>
<line x1="36.6" y1="219.4" x2="39.6" y2="219.4" stroke="#1a1a1a" stroke-width="1.1" />
<text x="32.8" y="221.75" font-size="6.8" text-anchor="end" font-weight="normal" fill="#333333" >30</text>
<line x1="36.6" y1="240.8" x2="39.6" y2="240.8" stroke="#1a1a1a" stroke-width="1.1" />
<text x="32.8" y="243.15" font-size="6.8" text-anchor="end" font-weight="normal" fill="#333333" >20</text>
<line x1="36.6" y1="262.2" x2="39.6" y2="262.2" stroke="#1a1a1a" stroke-width="1.1" />
<text x="32.8" y="264.55" font-size="6.8" text-anchor="end" font-weight="normal" fill="#333333" >10</text>
<line x1="36.6" y1="283.6" x2="39.6" y2="283.6" stroke="#1a1a1a" stroke-width="1.1" />
<text x="32.8" y="285.95" font-size="6.8" text-anchor="end" font-weight="normal" fill="#333333" >0</text>
<line x1="61.2" y1="294.2" x2="61.2" y2="297.2" stroke="#1a1a1a" stroke-width="1.1" />
<text x="61.2" y="306.7" font-size="6.8" text-anchor="middle" font-weight="normal" fill="#333333" >1</text>
<line x1="93.9" y1="294.2" x2="93.9" y2="297.2" stroke="#1a1a1a" stroke-width="1.1" />
<text x="93.9" y="306.7" font-size="6.8" text-anchor="middle" font-weight="normal" fill="#333333" >0.3</text>
<line x1="126.6" y1="294.2" x2="126.6" y2="297.2" stroke="#1a1a1a" stroke-width="1.1" />
<text x="126.6" y="306.7" font-size="6.8" text-anchor="middle" font-weight="normal" fill="#333333" >0.1</text>
<line x1="159.3" y1="294.2" x2="159.3" y2="297.2" stroke="#1a1a1a" stroke-width="1.1" />
<text x="159.3" y="306.7" font-size="6.8" text-anchor="middle" font-weight="normal" fill="#333333" >0</text>
<line x1="61.2" y1="260.49" x2="61.2" y2="274.4" stroke="#7887a3" stroke-width="0.9" />
<line x1="60.2" y1="260.49" x2="62.2" y2="260.49" stroke="#7887a3" stroke-width="0.8" />
<line x1="60.2" y1="274.4" x2="62.2" y2="274.4" stroke="#7887a3" stroke-width="0.8" />
<line x1="93.9" y1="266.48" x2="93.9" y2="275.04" stroke="#7887a3" stroke-width="0.9" />
<line x1="92.9" y1="266.48" x2="94.9" y2="266.48" stroke="#7887a3" stroke-width="0.8" />
<line x1="92.9" y1="275.04" x2="94.9" y2="275.04" stroke="#7887a3" stroke-width="0.8" />
<line x1="126.6" y1="269.69" x2="126.6" y2="278.25" stroke="#7887a3" stroke-width="0.9" />
<line x1="125.6" y1="269.69" x2="127.6" y2="269.69" stroke="#7887a3" stroke-width="0.8" />
<line x1="125.6" y1="278.25" x2="127.6" y2="278.25" stroke="#7887a3" stroke-width="0.8" />
<line x1="61.2" y1="215.12" x2="61.2" y2="236.52" stroke="#86b886" stroke-width="0.9" />
<line x1="60.2" y1="215.12" x2="62.2" y2="215.12" stroke="#86b886" stroke-width="0.8" />
<line x1="60.2" y1="236.52" x2="62.2" y2="236.52" stroke="#86b886" stroke-width="0.8" />
<line x1="93.9" y1="222.61" x2="93.9" y2="239.3" stroke="#86b886" stroke-width="0.9" />
<line x1="92.9" y1="222.61" x2="94.9" y2="222.61" stroke="#86b886" stroke-width="0.8" />
<line x1="92.9" y1="239.3" x2="94.9" y2="239.3" stroke="#86b886" stroke-width="0.8" />
<polyline points="61.2,267.55 93.9,270.76 126.6,273.97 159.3,267.12" fill="none" stroke="#2a406c" stroke-width="1.1" stroke-linejoin="round"/>
<circle cx="61.2" cy="267.55" r="1.1" fill="#2a406c"/>
<circle cx="93.9" cy="270.76" r="1.1" fill="#2a406c"/>
<circle cx="126.6" cy="273.97" r="1.1" fill="#2a406c"/>
<circle cx="159.3" cy="267.12" r="1.1" fill="#2a406c"/>
<polyline points="61.2,225.82 93.9,231.17 126.6,225.82 159.3,267.12" fill="none" stroke="#3e9844" stroke-width="1.1" stroke-linejoin="round"/>
<circle cx="61.2" cy="225.82" r="1.1" fill="#3e9844"/>
<circle cx="93.9" cy="231.17" r="1.1" fill="#3e9844"/>
<circle cx="126.6" cy="225.82" r="1.1" fill="#3e9844"/>
<circle cx="159.3" cy="267.12" r="1.1" fill="#3e9844"/>
<line x1="206.9" y1="193.5" x2="206.9" y2="294.6" stroke="#1a1a1a" stroke-width="1.3" />
<line x1="206.2" y1="294" x2="350" y2="294" stroke="#1a1a1a" stroke-width="1.3" />
<line x1="203.9" y1="196.4" x2="206.9" y2="196.4" stroke="#1a1a1a" stroke-width="1.1" />
<text x="200.1" y="198.75" font-size="6.8" text-anchor="end" font-weight="normal" fill="#333333" >40</text>
<line x1="203.9" y1="218.1" x2="206.9" y2="218.1" stroke="#1a1a1a" stroke-width="1.1" />
<text x="200.1" y="220.45" font-size="6.8" text-anchor="end" font-weight="normal" fill="#333333" >30</text>
<line x1="203.9" y1="239.8" x2="206.9" y2="239.8" stroke="#1a1a1a" stroke-width="1.1" />
<text x="200.1" y="242.15" font-size="6.8" text-anchor="end" font-weight="normal" fill="#333333" >20</text>
<line x1="203.9" y1="261.5" x2="206.9" y2="261.5" stroke="#1a1a1a" stroke-width="1.1" />
<text x="200.1" y="263.85" font-size="6.8" text-anchor="end" font-weight="normal" fill="#333333" >10</text>
<line x1="203.9" y1="283.2" x2="206.9" y2="283.2" stroke="#1a1a1a" stroke-width="1.1" />
<text x="200.1" y="285.55" font-size="6.8" text-anchor="end" font-weight="normal" fill="#333333" >0</text>
<line x1="228.5" y1="294" x2="228.5" y2="297" stroke="#1a1a1a" stroke-width="1.1" />
<text x="228.5" y="306.7" font-size="6.8" text-anchor="middle" font-weight="normal" fill="#333333" >1</text>
<line x1="261.55" y1="294" x2="261.55" y2="297" stroke="#1a1a1a" stroke-width="1.1" />
<text x="261.55" y="306.7" font-size="6.8" text-anchor="middle" font-weight="normal" fill="#333333" >0.3</text>
<line x1="294.6" y1="294" x2="294.6" y2="297" stroke="#1a1a1a" stroke-width="1.1" />
<text x="294.6" y="306.7" font-size="6.8" text-anchor="middle" font-weight="normal" fill="#333333" >0.1</text>
<line x1="327.65" y1="294" x2="327.65" y2="297" stroke="#1a1a1a" stroke-width="1.1" />
<text x="327.65" y="306.7" font-size="6.8" text-anchor="middle" font-weight="normal" fill="#333333" >0</text>
<line x1="228.5" y1="279.94" x2="228.5" y2="283.2" stroke="#7887a3" stroke-width="0.9" />
<line x1="227.5" y1="279.94" x2="229.5" y2="279.94" stroke="#7887a3" stroke-width="0.8" />
<line x1="227.5" y1="283.2" x2="229.5" y2="283.2" stroke="#7887a3" stroke-width="0.8" />
<line x1="261.55" y1="239.8" x2="261.55" y2="249.56" stroke="#86b886" stroke-width="0.9" />
<line x1="260.55" y1="239.8" x2="262.55" y2="239.8" stroke="#86b886" stroke-width="0.8" />
<line x1="260.55" y1="249.56" x2="262.55" y2="249.56" stroke="#86b886" stroke-width="0.8" />
<line x1="294.6" y1="251.08" x2="294.6" y2="259.33" stroke="#86b886" stroke-width="0.9" />
<line x1="293.6" y1="251.08" x2="295.6" y2="251.08" stroke="#86b886" stroke-width="0.8" />
<line x1="293.6" y1="259.33" x2="295.6" y2="259.33" stroke="#86b886" stroke-width="0.8" />
<polyline points="228.5,281.46 261.55,286.02 294.6,284.94 327.65,283.2" fill="none" stroke="#2a406c" stroke-width="1.1" stroke-linejoin="round"/>
<circle cx="228.5" cy="281.46" r="1.1" fill="#2a406c"/>
<circle cx="261.55" cy="286.02" r="1.1" fill="#2a406c"/>
<circle cx="294.6" cy="284.94" r="1.1" fill="#2a406c"/>
<circle cx="327.65" cy="283.2" r="1.1" fill="#2a406c"/>
<polyline points="228.5,238.71 261.55,244.79 294.6,255.42 327.65,283.2" fill="none" stroke="#3e9844" stroke-width="1.1" stroke-linejoin="round"/>
<circle cx="228.5" cy="238.71" r="1.1" fill="#3e9844"/>
<circle cx="261.55" cy="244.79" r="1.1" fill="#3e9844"/>
<circle cx="294.6" cy="255.42" r="1.1" fill="#3e9844"/>
<circle cx="327.65" cy="283.2" r="1.1" fill="#3e9844"/>
<line x1="371.6" y1="195.1" x2="371.6" y2="294.7" stroke="#1a1a1a" stroke-width="1.3" />
<line x1="370.9" y1="294.1" x2="512.5" y2="294.1" stroke="#1a1a1a" stroke-width="1.3" />
<line x1="368.6" y1="198.2" x2="371.6" y2="198.2" stroke="#1a1a1a" stroke-width="1.1" />
<text x="364.8" y="200.55" font-size="6.8" text-anchor="end" font-weight="normal" fill="#333333" >40</text>
<line x1="368.6" y1="219.55" x2="371.6" y2="219.55" stroke="#1a1a1a" stroke-width="1.1" />
<text x="364.8" y="221.9" font-size="6.8" text-anchor="end" font-weight="normal" fill="#333333" >30</text>
<line x1="368.6" y1="240.9" x2="371.6" y2="240.9" stroke="#1a1a1a" stroke-width="1.1" />
<text x="364.8" y="243.25" font-size="6.8" text-anchor="end" font-weight="normal" fill="#333333" >20</text>
<line x1="368.6" y1="262.25" x2="371.6" y2="262.25" stroke="#1a1a1a" stroke-width="1.1" />
<text x="364.8" y="264.6" font-size="6.8" text-anchor="end" font-weight="normal" fill="#333333" >10</text>
<line x1="368.6" y1="283.6" x2="371.6" y2="283.6" stroke="#1a1a1a" stroke-width="1.1" />
<text x="364.8" y="285.95" font-size="6.8" text-anchor="end" font-weight="normal" fill="#333333" >0</text>
<line x1="393.4" y1="294.1" x2="393.4" y2="297.1" stroke="#1a1a1a" stroke-width="1.1" />
<text x="393.4" y="306.7" font-size="6.8" text-anchor="middle" font-weight="normal" fill="#333333" >1</text>
<line x1="425.8" y1="294.1" x2="425.8" y2="297.1" stroke="#1a1a1a" stroke-width="1.1" />
<text x="425.8" y="306.7" font-size="6.8" text-anchor="middle" font-weight="normal" fill="#333333" >0.3</text>
<line x1="458.2" y1="294.1" x2="458.2" y2="297.1" stroke="#1a1a1a" stroke-width="1.1" />
<text x="458.2" y="306.7" font-size="6.8" text-anchor="middle" font-weight="normal" fill="#333333" >0.1</text>
<line x1="490.6" y1="294.1" x2="490.6" y2="297.1" stroke="#1a1a1a" stroke-width="1.1" />
<text x="490.6" y="306.7" font-size="6.8" text-anchor="middle" font-weight="normal" fill="#333333" >0</text>
<line x1="425.8" y1="257.98" x2="425.8" y2="275.06" stroke="#7887a3" stroke-width="0.9" />
<line x1="424.8" y1="257.98" x2="426.8" y2="257.98" stroke="#7887a3" stroke-width="0.8" />
<line x1="424.8" y1="275.06" x2="426.8" y2="275.06" stroke="#7887a3" stroke-width="0.8" />
<line x1="458.2" y1="262.25" x2="458.2" y2="276.13" stroke="#7887a3" stroke-width="0.9" />
<line x1="457.2" y1="262.25" x2="459.2" y2="262.25" stroke="#7887a3" stroke-width="0.8" />
<line x1="457.2" y1="276.13" x2="459.2" y2="276.13" stroke="#7887a3" stroke-width="0.8" />
<line x1="393.4" y1="267.59" x2="393.4" y2="272.93" stroke="#86b886" stroke-width="0.9" />
<line x1="392.4" y1="267.59" x2="394.4" y2="267.59" stroke="#86b886" stroke-width="0.8" />
<line x1="392.4" y1="272.93" x2="394.4" y2="272.93" stroke="#86b886" stroke-width="0.8" />
<line x1="425.8" y1="257.98" x2="425.8" y2="269.72" stroke="#86b886" stroke-width="0.9" />
<line x1="424.8" y1="257.98" x2="426.8" y2="257.98" stroke="#86b886" stroke-width="0.8" />
<line x1="424.8" y1="269.72" x2="426.8" y2="269.72" stroke="#86b886" stroke-width="0.8" />
<line x1="490.6" y1="264.39" x2="490.6" y2="267.59" stroke="#86b886" stroke-width="0.9" />
<line x1="489.6" y1="264.39" x2="491.6" y2="264.39" stroke="#86b886" stroke-width="0.8" />
<line x1="489.6" y1="267.59" x2="491.6" y2="267.59" stroke="#86b886" stroke-width="0.8" />
<polyline points="393.4,270.36 425.8,268.01 458.2,268.44 490.6,266.09" fill="none" stroke="#2a406c" stroke-width="1.1" stroke-linejoin="round"/>
<circle cx="393.4" cy="270.36" r="1.1" fill="#2a406c"/>
<circle cx="425.8" cy="268.01" r="1.1" fill="#2a406c"/>
<circle cx="458.2" cy="268.44" r="1.1" fill="#2a406c"/>
<circle cx="490.6" cy="266.09" r="1.1" fill="#2a406c"/>
<polyline points="393.4,270.79 425.8,264.39 458.2,261.4 490.6,265.88" fill="none" stroke="#3e9844" stroke-width="1.1" stroke-linejoin="round"/>
<circle cx="393.4" cy="270.79" r="1.1" fill="#3e9844"/>
<circle cx="425.8" cy="264.39" r="1.1" fill="#3e9844"/>
<circle cx="458.2" cy="261.4" r="1.1" fill="#3e9844"/>
<circle cx="490.6" cy="265.88" r="1.1" fill="#3e9844"/>
<text x="24.8" y="17.5" font-size="12.5" text-anchor="start" font-weight="bold" fill="#000" >A</text>
<text x="191.3" y="17.5" font-size="12.5" text-anchor="start" font-weight="bold" fill="#000" >B</text>
<text x="355.1" y="17.5" font-size="12.5" text-anchor="start" font-weight="bold" fill="#000" >C</text>
<text x="24.6" y="172.9" font-size="12.5" text-anchor="start" font-weight="bold" fill="#000" >D</text>
<text x="191.3" y="172.9" font-size="12.5" text-anchor="start" font-weight="bold" fill="#000" >E</text>
<text x="354.8" y="172.9" font-size="12.5" text-anchor="start" font-weight="bold" fill="#000" >F</text>
<text x="96.9" y="31.2" font-size="9" text-anchor="start" font-weight="normal" fill="#222" textLength="27.7" lengthAdjust="spacingAndGlyphs" >MAC-1</text>
<text x="267.2" y="31.6" font-size="9" text-anchor="start" font-weight="normal" fill="#222" textLength="19.4" lengthAdjust="spacingAndGlyphs" >JMN</text>
<text x="426.6" y="31.4" font-size="9" text-anchor="start" font-weight="normal" fill="#222" textLength="31.9" lengthAdjust="spacingAndGlyphs" >SW-620</text>
<text x="95.7" y="186.5" font-size="9" text-anchor="start" font-weight="normal" fill="#222" textLength="28.8" lengthAdjust="spacingAndGlyphs" >BV-173</text>
<text x="267.2" y="185.4" font-size="9" text-anchor="start" font-weight="normal" fill="#222" textLength="21.8" lengthAdjust="spacingAndGlyphs" >SET-2</text>
<text x="430.3" y="186.5" font-size="9" text-anchor="start" font-weight="normal" fill="#222" textLength="24" lengthAdjust="spacingAndGlyphs" >HL-60</text>
<line x1="11.4" y1="52.2" x2="11.4" y2="147.5" stroke="#4a4a4a" stroke-width="1" />
<line x1="11.4" y1="179.7" x2="11.4" y2="290" stroke="#4a4a4a" stroke-width="1" />
<text x="0" y="0" font-size="7.2" fill="#333333" text-anchor="middle" transform="translate(13.6,161.4) rotate(-90)" textLength="23.3" lengthAdjust="spacingAndGlyphs">% Lysis</text>
<line x1="51.9" y1="319" x2="240.4" y2="319" stroke="#333" stroke-width="1.1" />
<line x1="310.4" y1="319" x2="501.5" y2="319" stroke="#333" stroke-width="1.1" />
<text x="246.9" y="321.8" font-size="8.6" text-anchor="start" font-weight="normal" fill="#333" textLength="59.6" lengthAdjust="spacingAndGlyphs" >BiTE Conc. (ug/mL)</text>
<line x1="156.9" y1="334" x2="173.5" y2="334" stroke="#2a406c" stroke-width="1.2" />
<circle cx="165.1" cy="334" r="1.5" fill="#2a406c"/>
<text x="176.8" y="336" font-size="7" text-anchor="start" font-weight="normal" fill="#333" textLength="38.3" lengthAdjust="spacingAndGlyphs" >Control BiTE</text>
<line x1="221.9" y1="334" x2="238.5" y2="334" stroke="#c42842" stroke-width="1.2" />
<circle cx="230.1" cy="334" r="1.5" fill="#c42842"/>
<text x="241.5" y="336" font-size="7" text-anchor="start" font-weight="normal" fill="#333" textLength="26.6" lengthAdjust="spacingAndGlyphs" >#18 BiTE</text>
<line x1="275.1" y1="334" x2="291.7" y2="334" stroke="#3e9844" stroke-width="1.2" />
<path d="M281.6,335.6 L283.3,332.5 L285.0,335.6 Z" fill="#3e9844"/>
<text x="294.6" y="336" font-size="7" text-anchor="start" font-weight="normal" fill="#333" textLength="27" lengthAdjust="spacingAndGlyphs" >#34 BiTE</text>
<line x1="328.4" y1="334" x2="344.7" y2="334" stroke="#4e3858" stroke-width="1.2" />
<circle cx="336.5" cy="334" r="1.5" fill="#4e3858"/>
<text x="347.7" y="336" font-size="7" text-anchor="start" font-weight="normal" fill="#333" textLength="32.7" lengthAdjust="spacingAndGlyphs" >ESK1-BiTE</text>
<rect x="0.5" y="0.5" width="519" height="344" fill="none" stroke="#444" stroke-width="1"/>
</svg>
</body></html>
